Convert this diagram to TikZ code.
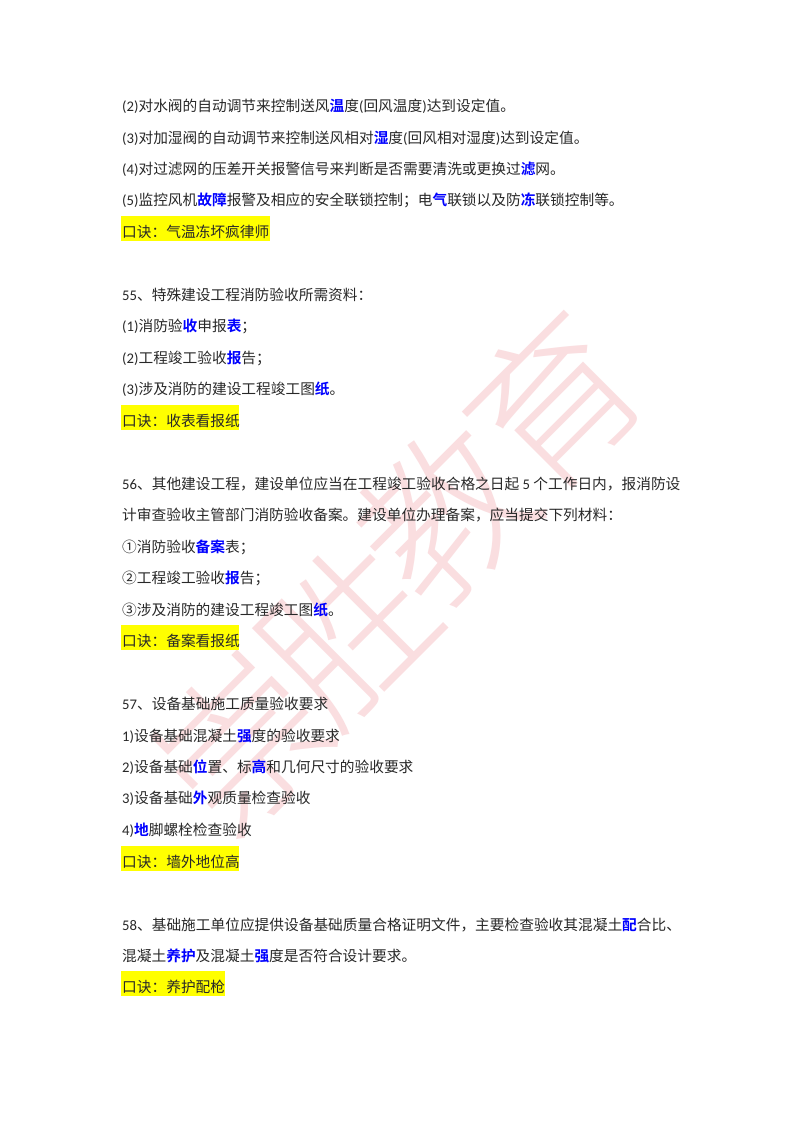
\documentclass[tikz,border=0pt]{standalone}
\usepackage{fontspec}
\setmainfont{Carlito}
\newfontfamily\cjk{Noto Sans CJK SC}
\newfontfamily\cjkb{Noto Sans CJK SC Bold}
\newfontfamily\cjkl{Noto Sans CJK SC Light}
\definecolor{hl}{RGB}{255,255,0}
\definecolor{kw}{RGB}{0,0,255}
\definecolor{wm}{RGB}{250,222,224}
\definecolor{tx}{RGB}{40,40,40}
\newcommand{\K}[1]{{\color{kw}\cjkb #1}}
\newcommand{\C}[1]{{\cjk #1}}
\tikzset{
 line/.style={anchor=base west,inner sep=0pt,font=\fontsize{14.7pt}{16pt}\selectfont,text=tx},
 hlbox/.style={fill=hl,draw=none},
 wmark/.style={anchor=center,inner sep=0pt,text=wm,font=\fontsize{165pt}{165pt}\cjkl,rotate=45}
}
\begin{document}
\begin{tikzpicture}[x=1pt,y=-1pt]
\useasboundingbox (0,0) rectangle (800,1132);
\fill[white] (0,0) rectangle (800,1132);
\node[wmark] (w1) at (242,742) {崇};
\node[wmark] (w2) at (347,632) {胜};
\node[wmark] (w3) at (445,515) {教};
\node[wmark] (w4) at (553,402) {育};
\fill[hlbox] (121,216) rectangle (270,241);
\fill[hlbox] (121,405) rectangle (239,430);
\fill[hlbox] (121,625) rectangle (239,650);
\fill[hlbox] (121,846) rectangle (239,871);
\fill[hlbox] (121,971) rectangle (225,996);
\node[line] (l1) at (122,111) {(2)\C{对水阀的自动调节来控制送风}\K{温}\C{度}(\C{回风温度})\C{达到设定值。}};
\node[line] (l2) at (122,143) {(3)\C{对加湿阀的自动调节来控制送风相对}\K{湿}\C{度}(\C{回风相对湿度})\C{达到设定值。}};
\node[line] (l3) at (122,174) {(4)\C{对过滤网的压差开关报警信号来判断是否需要清洗或更换过}\K{滤}\C{网。}};
\node[line] (l4) at (122,205) {(5)\C{监控风机}\K{故障}\C{报警及相应的安全联锁控制；电}\K{气}\C{联锁以及防}\K{冻}\C{联锁控制等。}};
\node[line] (l5) at (122,237) {\C{口诀：气温冻坏疯律师}};
\node[line] (l6) at (122,300) {55\C{、特殊建设工程消防验收所需资料：}};
\node[line] (l7) at (122,331) {(1)\C{消防验}\K{收}\C{申报}\K{表}\C{；}};
\node[line] (l8) at (122,363) {(2)\C{工程竣工验收}\K{报}\C{告；}};
\node[line] (l9) at (122,394) {(3)\C{涉及消防的建设工程竣工图}\K{纸}\C{。}};
\node[line] (l10) at (122,426) {\C{口诀：收表看报纸}};
\node[line] (l11) at (122,489) {56\C{、其他建设工程，建设单位应当在工程竣工验收合格之日起} 5 \C{个工作日内，报消防设}};
\node[line] (l12) at (122,520) {\C{计审查验收主管部门消防验收备案。建设单位办理备案，应当提交下列材料：}};
\node[line] (l13) at (122,552) {\C{①消防验收}\K{备案}\C{表；}};
\node[line] (l14) at (122,583) {\C{②工程竣工验收}\K{报}\C{告；}};
\node[line] (l15) at (122,615) {\C{③涉及消防的建设工程竣工图}\K{纸}\C{。}};
\node[line] (l16) at (122,646) {\C{口诀：备案看报纸}};
\node[line] (l17) at (122,709) {57\C{、设备基础施工质量验收要求}};
\node[line] (l18) at (122,741) {1)\C{设备基础混凝土}\K{强}\C{度的验收要求}};
\node[line] (l19) at (122,772) {2)\C{设备基础}\K{位}\C{置、标}\K{高}\C{和几何尺寸的验收要求}};
\node[line] (l20) at (122,803) {3)\C{设备基础}\K{外}\C{观质量检查验收}};
\node[line] (l21) at (122,835) {4)\K{地}\C{脚螺栓检查验收}};
\node[line] (l22) at (122,867) {\C{口诀：墙外地位高}};
\node[line] (l23) at (122,930) {58\C{、基础施工单位应提供设备基础质量合格证明文件，主要检查验收其混凝土}\K{配}\C{合比、}};
\node[line] (l24) at (122,961) {\C{混凝土}\K{养护}\C{及混凝土}\K{强}\C{度是否符合设计要求。}};
\node[line] (l25) at (122,992) {\C{口诀：养护配枪}};
\end{tikzpicture}
\end{document}
